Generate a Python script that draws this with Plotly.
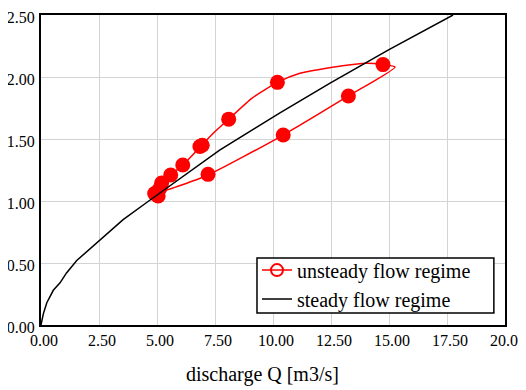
import plotly.graph_objects as go

# steady flow regime (rating curve)
steady_q = [0.0, 0.05, 0.1, 0.25, 0.53, 0.82, 1.1, 1.54, 2.4, 3.54, 4.57, 5.7, 6.85, 7.7, 10.3, 12.46, 15.0, 17.76]
steady_h = [0.0, 0.05, 0.09, 0.18, 0.28, 0.34, 0.42, 0.52, 0.66, 0.85, 0.99, 1.14, 1.29, 1.41, 1.71, 1.95, 2.22, 2.50]

# unsteady flow regime (hysteresis loop, line)
loop_q = [5.0, 5.05, 5.2, 5.59, 6.11, 6.88, 7.5, 8.09, 9.1, 10.19, 11.16, 12.0, 13.0, 14.0, 14.74, 15.26,
          13.25, 10.44, 7.2, 5.69, 5.04, 4.95]
loop_h = [1.05, 1.08, 1.145, 1.21, 1.29, 1.44, 1.56, 1.66, 1.83, 1.957, 2.03, 2.06, 2.09, 2.11, 2.10, 2.08,
          1.847, 1.532, 1.21, 1.105, 1.065, 1.05]

# unsteady flow regime (sampled points)
pts_q = [4.9, 5.0, 5.05, 5.15, 5.2, 5.59, 6.11, 6.85, 6.95, 8.09, 10.19, 14.74, 13.25, 10.44, 7.2, 5.05]
pts_h = [1.06, 1.05, 1.08, 1.11, 1.145, 1.21, 1.29, 1.44, 1.45, 1.66, 1.957, 2.10, 1.847, 1.532, 1.215, 1.04]

x_ticks = [0, 2.5, 5, 7.5, 10, 12.5, 15, 17.5, 20]
y_ticks = [0, 0.5, 1.0, 1.5, 2.0, 2.5]
x_title = "discharge Q [m3/s]"

RED = "#ff0000"
FONT = "Liberation Serif"

fig = go.Figure()
fig.add_trace(go.Scatter(x=loop_q, y=loop_h, mode="lines",
                         line=dict(color=RED, width=1.5, shape="spline", smoothing=0.6),
                         showlegend=False, hoverinfo="skip"))
fig.add_trace(go.Scatter(x=pts_q, y=pts_h, mode="markers",
                         marker=dict(color=RED, size=15), showlegend=False))
fig.add_trace(go.Scatter(x=[None], y=[None], mode="lines+markers", name="unsteady flow regime",
                         line=dict(color=RED, width=1.5),
                         marker=dict(color=RED, size=12, symbol="circle-open",
                                     line=dict(color=RED, width=2))))
fig.add_trace(go.Scatter(x=steady_q, y=steady_h, mode="lines", name="steady flow regime",
                         line=dict(color="black", width=1.5)))

axis_common = dict(showgrid=True, gridcolor="#d3d3d3", gridwidth=1,
                   showline=True, linecolor="black", linewidth=2, mirror=True,
                   zeroline=False, ticks="", tickformat=".2f", automargin=False,
                   ticklabeloverflow="allow",
                   tickfont=dict(family=FONT, size=16, color="black"))

# page body adds an 8px offset; figure is sized to fit the remaining window
fig.update_layout(
    width=518, height=382,
    margin=dict(l=33, r=21, t=7, b=65),
    paper_bgcolor="white", plot_bgcolor="white",
    font=dict(family=FONT, color="black"),
    xaxis=dict(range=[0, 20], tickvals=x_ticks, ticklabelshift=3, **axis_common),
    yaxis=dict(range=[0, 2.5], tickvals=y_ticks, ticklabelstandoff=1, ticklabelshift=2,
               **axis_common),
    legend=dict(x=0.4655, xanchor="left", y=0.24, yanchor="top",
                bgcolor="rgba(0,0,0,0)", borderwidth=0,
                font=dict(family=FONT, size=20, color="black"),
                tracegroupgap=0, itemwidth=30),
    shapes=[dict(type="rect", xref="paper", yref="paper",
                 x0=0.4655, x1=0.976, y0=0.0387, y1=0.216,
                 line=dict(color="black", width=1.5), fillcolor="white", layer="above")],
    annotations=[dict(text=x_title, xref="paper", yref="paper", x=0.478, y=-0.161,
                      xanchor="center", yanchor="middle", showarrow=False,
                      font=dict(family=FONT, size=20, color="black"))],
)

fig.write_html("out.html")
